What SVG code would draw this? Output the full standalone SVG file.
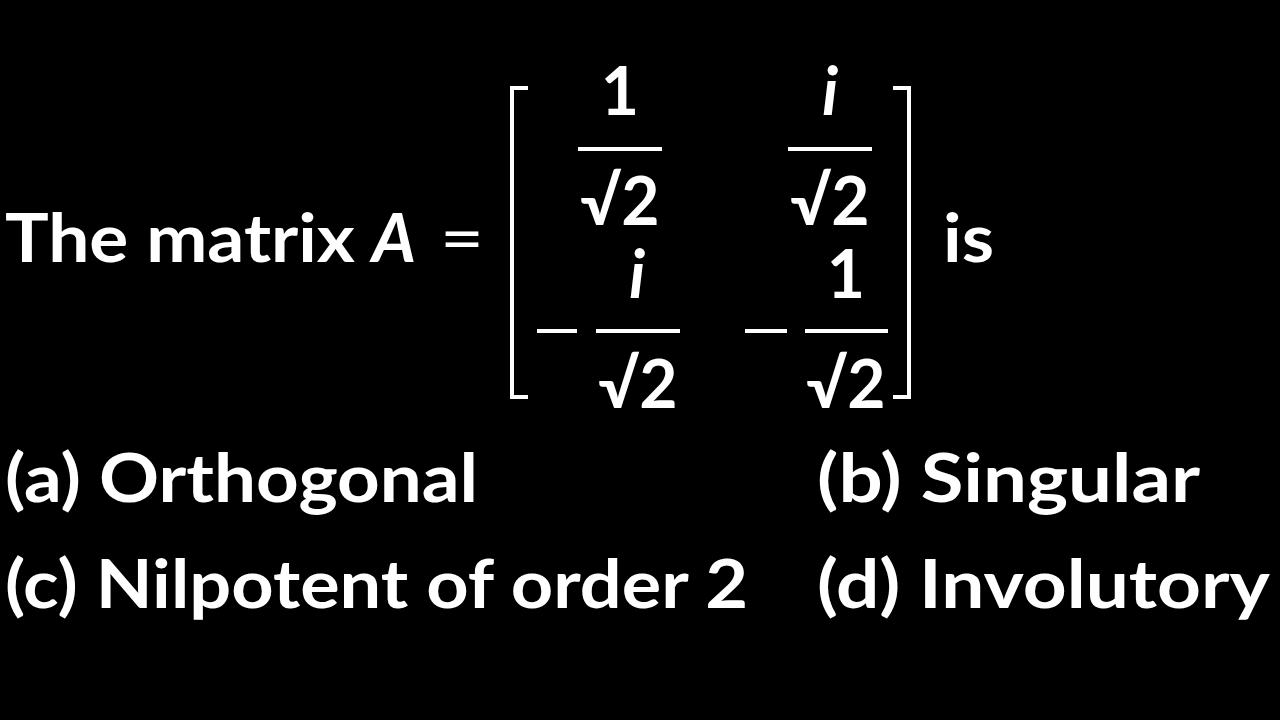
<svg xmlns="http://www.w3.org/2000/svg" width="1280" height="720" viewBox="0 0 1280 720">
<style>
text{fill:#fff;font-family:Lato,"Open Sans","Liberation Sans",sans-serif;font-weight:bold;font-size:66px}
.it{font-style:italic}
.m{text-anchor:middle}
line,path{stroke:#fff;stroke-width:4;fill:none}
</style>
<rect width="1280" height="720" fill="#000"/>
<text x="5" y="262" textLength="350" lengthAdjust="spacingAndGlyphs">The matrix</text>
<text x="372" y="262" class="it" textLength="44" lengthAdjust="spacingAndGlyphs">A</text>
<text x="440" y="262" textLength="44" lengthAdjust="spacingAndGlyphs" style="font-weight:normal">=</text>
<path d="M528 88H512V397H528"/>
<path d="M893 88H909V397H893"/>
<g id="m11"><text x="620" y="115" class="m">1</text><line x1="578" y1="149" x2="662" y2="149"/><text x="620" y="225" class="m">√2</text></g>
<g id="m12"><text x="830" y="115" class="m it">i</text><line x1="788" y1="149" x2="872" y2="149"/><text x="830" y="225" class="m">√2</text></g>
<g id="m21"><line x1="537" y1="331" x2="577" y2="331"/><text x="637" y="298" class="m it">i</text><line x1="596" y1="331" x2="680" y2="331"/><text x="638" y="408" class="m">√2</text></g>
<g id="m22"><line x1="745" y1="331" x2="787" y2="331"/><text x="846" y="298" class="m">1</text><line x1="805" y1="331" x2="888" y2="331"/><text x="846" y="408" class="m">√2</text></g>
<text x="943" y="262" textLength="51" lengthAdjust="spacingAndGlyphs">is</text>
<text x="5" y="502" textLength="473" lengthAdjust="spacingAndGlyphs">(a) Orthogonal</text>
<text x="817" y="502" textLength="383" lengthAdjust="spacingAndGlyphs">(b) Singular</text>
<text x="5" y="608" textLength="743" lengthAdjust="spacingAndGlyphs">(c) Nilpotent of order 2</text>
<text x="817" y="608" textLength="453" lengthAdjust="spacingAndGlyphs">(d) Involutory</text>
</svg>
